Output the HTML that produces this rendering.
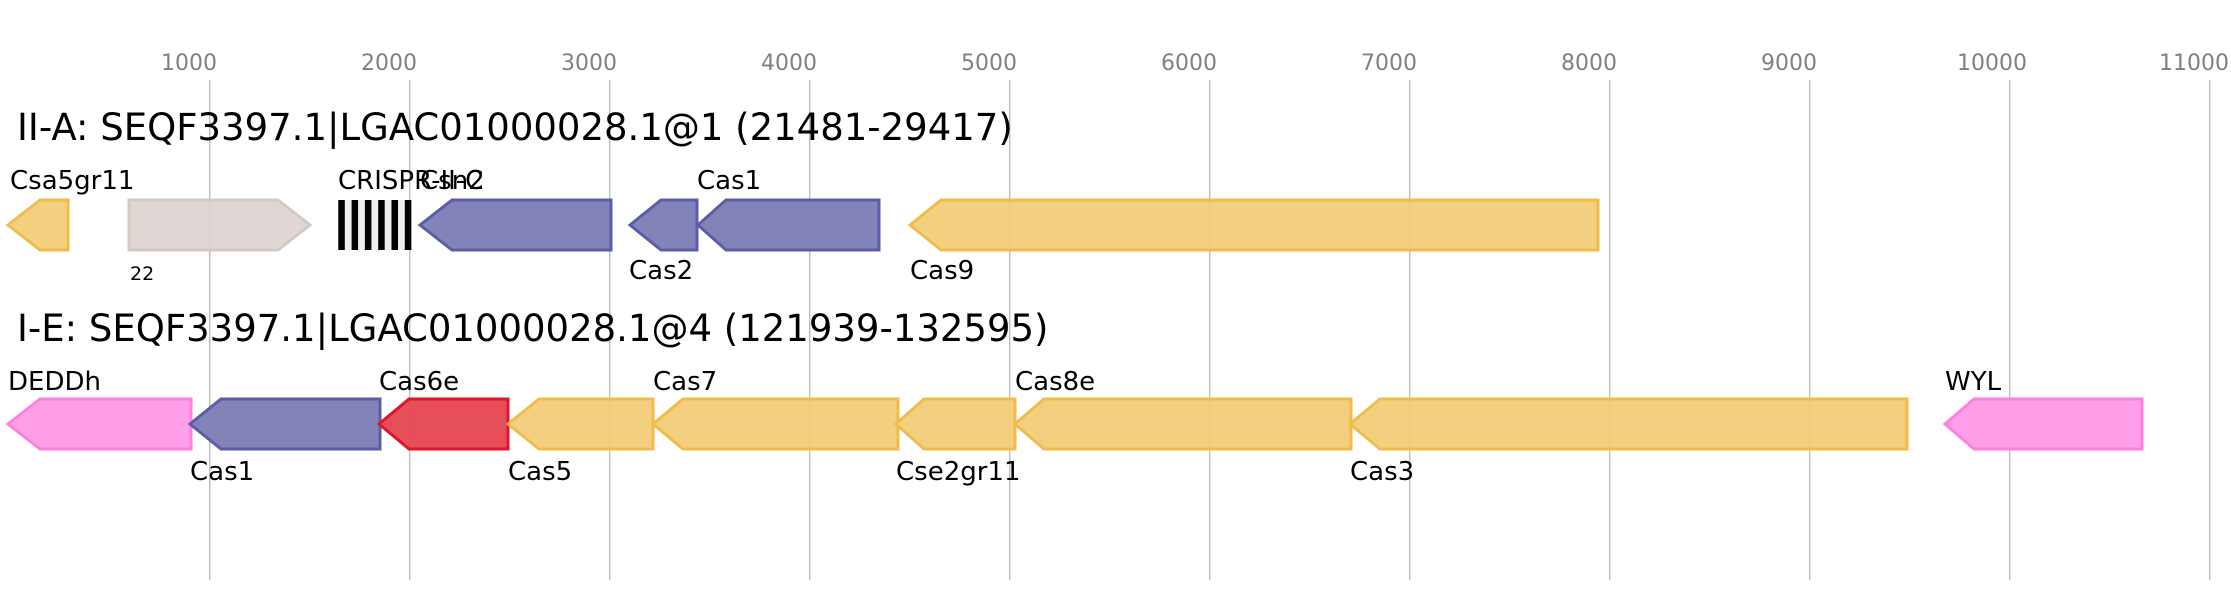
<!DOCTYPE html>
<html><head><meta charset="utf-8"><style>
html,body{margin:0;padding:0;background:#fff;}
svg{display:block;}
text{font-family:"DejaVu Sans","Liberation Sans",sans-serif;}
</style></head><body>
<svg width="2231" height="600" viewBox="0 0 2231 600" xmlns="http://www.w3.org/2000/svg">
<g stroke="#c0c0c0" stroke-width="1.5">
<line x1="209.7" y1="80" x2="209.7" y2="580"/>
<line x1="409.7" y1="80" x2="409.7" y2="580"/>
<line x1="609.7" y1="80" x2="609.7" y2="580"/>
<line x1="809.7" y1="80" x2="809.7" y2="580"/>
<line x1="1009.7" y1="80" x2="1009.7" y2="580"/>
<line x1="1209.7" y1="80" x2="1209.7" y2="580"/>
<line x1="1409.7" y1="80" x2="1409.7" y2="580"/>
<line x1="1609.7" y1="80" x2="1609.7" y2="580"/>
<line x1="1809.7" y1="80" x2="1809.7" y2="580"/>
<line x1="2009.7" y1="80" x2="2009.7" y2="580"/>
<line x1="2209.7" y1="80" x2="2209.7" y2="580"/>
</g>
<g fill="#808080" font-size="22" text-anchor="middle">
<text x="189" y="70">1000</text>
<text x="389" y="70">2000</text>
<text x="589" y="70">3000</text>
<text x="789" y="70">4000</text>
<text x="989" y="70">5000</text>
<text x="1189" y="70">6000</text>
<text x="1389" y="70">7000</text>
<text x="1589" y="70">8000</text>
<text x="1789" y="70">9000</text>
<text x="1992" y="70">10000</text>
<text x="2194" y="70">11000</text>
</g>
<text x="17" y="140" font-size="37" fill="#000">II-A: SEQF3397.1|LGAC01000028.1@1 (21481-29417)</text>
<text x="17" y="341" font-size="37" fill="#000">I-E: SEQF3397.1|LGAC01000028.1@4 (121939-132595)</text>

<g stroke-width="3" stroke-linejoin="miter">
<polygon points="8,225 40,200 68,200 68,250 40,250" fill="#f2cc75" stroke="#f0bc4a" fill-opacity="0.92"/>
<polygon points="129,200 278,200 310,225 278,250 129,250" fill="#dcd3ce" stroke="#d4c8c0" fill-opacity="0.9"/>
<polygon points="420,225 452,200 611,200 611,250 452,250" fill="#7b7db5" stroke="#5b5ea6" fill-opacity="0.95"/>
<polygon points="630,225 661,200 697,200 697,250 661,250" fill="#7b7db5" stroke="#5b5ea6" fill-opacity="0.95"/>
<polygon points="698,225 726,200 879,200 879,250 726,250" fill="#7b7db5" stroke="#5b5ea6" fill-opacity="0.95"/>
<polygon points="910,225 941,200 1598,200 1598,250 941,250" fill="#f2cc75" stroke="#f0bc4a" fill-opacity="0.92"/>
<polygon points="8,424 40,399 191,399 191,449 40,449" fill="#ff99e8" stroke="#ff80df" fill-opacity="0.95"/>
<polygon points="190,424 221,399 380,399 380,449 221,449" fill="#7b7db5" stroke="#5b5ea6" fill-opacity="0.95"/>
<polygon points="379,424 409,399 508,399 508,449 409,449" fill="#e5444f" stroke="#e0142b" fill-opacity="0.95"/>
<polygon points="508,424 539,399 653,399 653,449 539,449" fill="#f2cc75" stroke="#f0bc4a" fill-opacity="0.92"/>
<polygon points="653,424 683,399 898,399 898,449 683,449" fill="#f2cc75" stroke="#f0bc4a" fill-opacity="0.92"/>
<polygon points="896,424 924,399 1015,399 1015,449 924,449" fill="#f2cc75" stroke="#f0bc4a" fill-opacity="0.92"/>
<polygon points="1015,424 1044,399 1351,399 1351,449 1044,449" fill="#f2cc75" stroke="#f0bc4a" fill-opacity="0.92"/>
<polygon points="1350,424 1380,399 1907,399 1907,449 1380,449" fill="#f2cc75" stroke="#f0bc4a" fill-opacity="0.92"/>
<polygon points="1945,424 1974,399 2142,399 2142,449 1974,449" fill="#ff99e8" stroke="#ff80df" fill-opacity="0.95"/>
</g>
<rect x="338" y="200" width="74" height="50" fill="#eeeeee"/>
<g fill="#000">
<rect x="338.3" y="200" width="6.5" height="50"/>
<rect x="351.6" y="200" width="6.5" height="50"/>
<rect x="364.9" y="200" width="6.5" height="50"/>
<rect x="378.2" y="200" width="6.5" height="50"/>
<rect x="391.5" y="200" width="6.5" height="50"/>
<rect x="404.8" y="200" width="6.5" height="50"/>
</g>

<g font-size="26" fill="#000">
<text x="10" y="189">Csa5gr11</text>
<text x="338" y="189">CRISPR-II-C</text>
<text x="420" y="189">Csn2</text>
<text x="697" y="189">Cas1</text>
<text x="629" y="279">Cas2</text>
<text x="910" y="279">Cas9</text>
<text x="130" y="280" font-size="19">22</text>
<text x="8" y="390">DEDDh</text>
<text x="379" y="390">Cas6e</text>
<text x="653" y="390">Cas7</text>
<text x="1015" y="390">Cas8e</text>
<text x="1945" y="390">WYL</text>
<text x="190" y="480">Cas1</text>
<text x="508" y="480">Cas5</text>
<text x="896" y="480">Cse2gr11</text>
<text x="1350" y="480">Cas3</text>
</g>
</svg>
</body></html>
